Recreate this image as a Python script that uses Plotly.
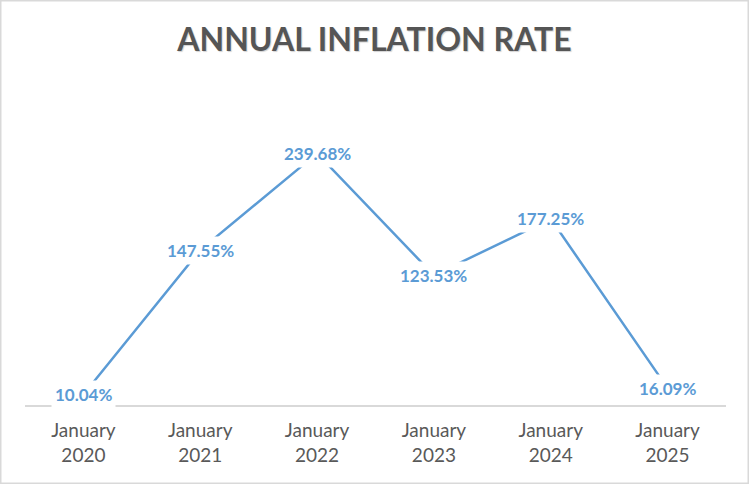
import plotly.graph_objects as go

categories = ["January<br>2020", "January<br>2021", "January<br>2022",
              "January<br>2023", "January<br>2024", "January<br>2025"]
rates = [10.04, 147.55, 239.68, 123.53, 177.25, 16.09]
title_text = "ANNUAL INFLATION RATE"

BLUE = "#5B9BD5"
GRAY = "#595959"
W, H = 749, 484
L, R, T, B = 25, 23, 90, 79

fig = go.Figure()
fig.add_trace(go.Scatter(
    x=categories, y=rates, mode="lines",
    line=dict(color=BLUE, width=2.5),
    hoverinfo="skip", showlegend=False,
))

for c, v in zip(categories, rates):
    fig.add_annotation(
        x=c, y=v, xref="x", yref="y",
        text=f"{v:.2f}%", showarrow=False,
        font=dict(family="Lato", size=17, color=BLUE, weight="bold"),
        bgcolor="white", borderpad=3,
        xanchor="center", yanchor="middle",
    )

pw = W - L - R
ph = H - T - B
fig.add_shape(
    type="rect", xref="paper", yref="paper",
    x0=-L / pw + 0.75 / pw, x1=1 + R / pw - 0.75 / pw,
    y0=-B / ph + 0.75 / ph, y1=1 + T / ph - 0.75 / ph,
    line=dict(color="#D9D9D9", width=1.5), layer="above",
)

fig.update_layout(
    width=W, height=H,
    margin=dict(l=L, r=R, t=T, b=B),
    paper_bgcolor="white", plot_bgcolor="white",
    title=dict(
        text=title_text, x=0.5, xanchor="center",
        y=1 - 40 / H, yanchor="middle", yref="container",
        font=dict(family="Lato", size=32, color="#555555", weight="bold",
                  shadow="1px 1px 1px rgba(0,0,0,0.18)"),
    ),
    xaxis=dict(
        type="category", range=[-0.5, 5.5],
        showline=True, linecolor="#D9D9D9", linewidth=1.5,
        showgrid=False, zeroline=False, ticks="",
        tickfont=dict(family="Lato", size=19, color=GRAY),
        ticklabelstandoff=8,
    ),
    yaxis=dict(
        range=[0, 300], visible=False, showgrid=False, zeroline=False,
    ),
)

fig.write_html(
    "out.html",
    config={"displayModeBar": False, "staticPlot": True},
    post_script="document.body.style.margin='0';document.body.style.overflow='hidden';",
)
